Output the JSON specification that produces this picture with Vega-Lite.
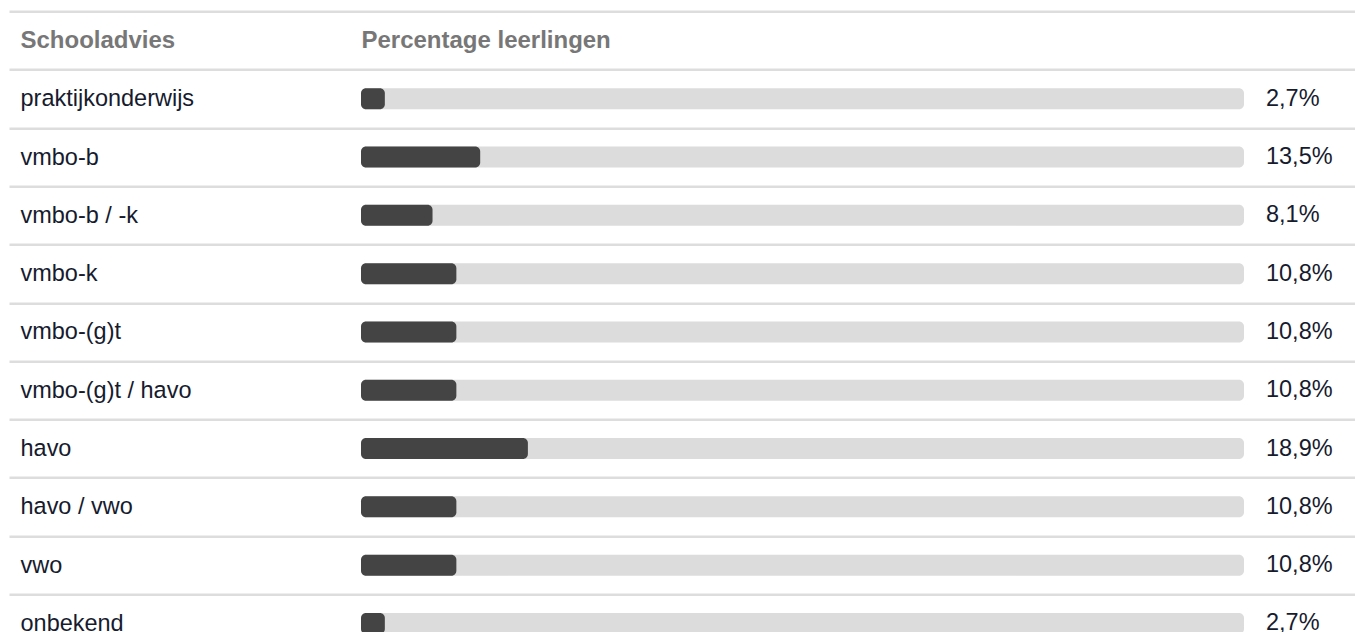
{
  "$schema": "https://vega.github.io/schema/vega-lite/v6.json",
  "autosize": {"type": "none"},
  "padding": {"left": 9, "top": 11.3, "right": 0, "bottom": 0},
  "width": 1346,
  "height": 641.3,
  "background": "white",
  "config": {
    "font": "Liberation Sans",
    "view": {"stroke": null}
  },
  "data": {
    "values": [
      {"advies": "praktijkonderwijs", "pct": 2.7, "label": "2,7%"},
      {"advies": "vmbo-b", "pct": 13.5, "label": "13,5%"},
      {"advies": "vmbo-b / -k", "pct": 8.1, "label": "8,1%"},
      {"advies": "vmbo-k", "pct": 10.8, "label": "10,8%"},
      {"advies": "vmbo-(g)t", "pct": 10.8, "label": "10,8%"},
      {"advies": "vmbo-(g)t / havo", "pct": 10.8, "label": "10,8%"},
      {"advies": "havo", "pct": 18.9, "label": "18,9%"},
      {"advies": "havo / vwo", "pct": 10.8, "label": "10,8%"},
      {"advies": "vwo", "pct": 10.8, "label": "10,8%"},
      {"advies": "onbekend", "pct": 2.7, "label": "2,7%"}
    ]
  },
  "encoding": {
    "y": {
      "field": "advies",
      "type": "nominal",
      "sort": null,
      "scale": {
        "domain": ["", "praktijkonderwijs", "vmbo-b", "vmbo-b / -k", "vmbo-k", "vmbo-(g)t", "vmbo-(g)t / havo", "havo", "havo / vwo", "vwo", "onbekend"],
        "paddingInner": 0,
        "paddingOuter": 0
      },
      "axis": {
        "orient": "left",
        "domain": false,
        "ticks": false,
        "tickSize": 0,
        "tickBand": "extent",
        "grid": true,
        "gridColor": "#dddddd",
        "gridWidth": 2.5,
        "labelAlign": "left",
        "labelBaseline": "middle",
        "labelPadding": -11,
        "labelFontSize": 23.5,
        "labelColor": "#161b2e",
        "labelLimit": 400,
        "title": "Schooladvies",
        "titleAngle": 0,
        "titleX": 11,
        "titleY": 29.2,
        "titleAlign": "left",
        "titleBaseline": "middle",
        "titleFontSize": 24,
        "titleFontWeight": "bold",
        "titleColor": "#777777"
      }
    }
  },
  "layer": [
    {
      "mark": {"type": "bar", "size": 21, "cornerRadius": 5, "color": "#dcdcdc"},
      "encoding": {
        "x": {"datum": 0, "type": "quantitative"},
        "x2": {"datum": 100}
      }
    },
    {
      "mark": {"type": "bar", "size": 21, "cornerRadius": 5, "color": "#444444"},
      "encoding": {
        "x": {
          "field": "pct",
          "type": "quantitative",
          "stack": null,
          "scale": {"domain": [-39.864, 112.571], "zero": false, "nice": false},
          "axis": {
            "orient": "top",
            "domain": false,
            "ticks": false,
            "labels": false,
            "grid": false,
            "title": "Percentage leerlingen",
            "titleX": 352,
            "titleY": 29.2,
            "titleAlign": "left",
            "titleAnchor": "start",
            "titleBaseline": "middle",
            "titleFontSize": 24,
            "titleFontWeight": "bold",
            "titleColor": "#777777"
          }
        },
        "x2": {"datum": 0}
      }
    },
    {
      "mark": {"type": "text", "align": "left", "baseline": "middle", "dx": 22, "fontSize": 23.5, "color": "#161b2e"},
      "encoding": {
        "x": {"datum": 100, "type": "quantitative"},
        "text": {"field": "label", "type": "nominal"}
      }
    }
  ]
}
